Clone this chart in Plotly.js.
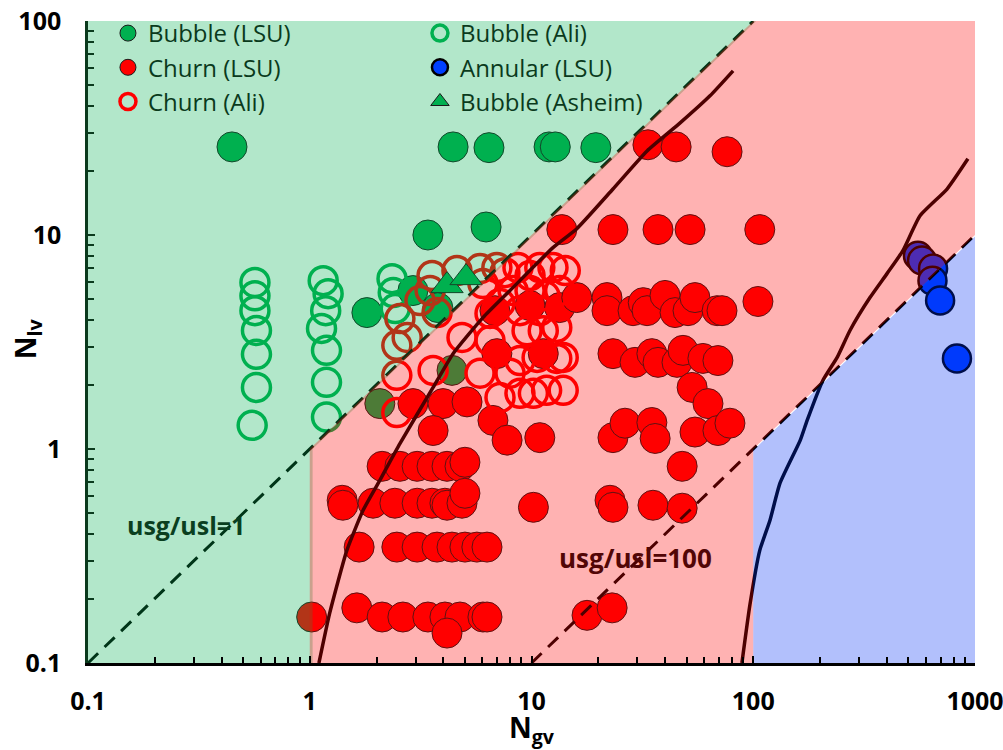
<!DOCTYPE html>
<html><head><meta charset="utf-8">
<script src="https://cdn.plot.ly/plotly-3.0.1.min.js"></script>
<style>html,body{margin:0;padding:0;background:#fff}#chart{width:1003px;height:750px}</style>
</head><body><div id="chart"></div>
<script>
// ---- data (N_gv, N_lv) ----
const bubbleLsuX = [0.446, 4.43, 6.43, 12.0, 12.8, 19.5, 3.41, 6.24, 1.81, 2.92, 3.78, 2.07, 4.38];
const bubbleLsuY = [25.8, 25.8, 25.6, 25.8, 25.8, 25.6, 10.0, 10.9, 4.34, 5.5, 4.58, 1.63, 2.33];

const churnLsuX = [33.5, 44.9, 76.2,
  13.7, 23.3, 37.2, 51.9, 107,
  6.84, 9.85, 13.4, 16.0, 21.9, 21.9, 28.7, 31.9, 33.2, 40.0, 44.4, 50.8, 54.6, 68.7, 72.3, 105,
  6.98, 11.3, 23.3, 29.3, 34.9, 37.2, 45.3, 48.2, 59.3, 69.3,
  53, 62.5,
  2.92, 3.99, 5.12,
  3.60, 6.70, 7.76, 10.9, 23.3, 26.4, 34.9, 36.1, 54.6, 69.3, 78.5,
  2.12, 2.55, 3.05, 3.56, 4.16, 4.76, 5.01, 47.8,
  1.40, 1.41, 1.93, 2.42, 3.05, 3.56, 4.07, 4.16, 4.86, 5.01, 10.2, 22.6, 23.3, 35.3, 47.8,
  1.67, 2.47, 3.05, 3.75, 4.38, 5.01, 5.67, 6.30,
  1.02, 1.63, 2.12, 2.63, 3.41, 4.07, 4.76, 4.16, 6.04, 6.30, 17.8, 23.1];
const churnLsuY = [26.4, 25.8, 24.5,
  10.6, 10.6, 10.6, 10.6, 10.6,
  4.43, 4.68, 4.58, 5.10, 5.10, 4.43, 4.43, 4.83, 4.43, 5.22, 4.34, 4.43, 5.10, 4.43, 4.43, 4.89,
  2.79, 2.79, 2.79, 2.54, 2.79, 2.54, 2.54, 2.89, 2.65, 2.59,
  1.94, 1.63,
  1.63, 1.63, 1.66,
  1.22, 1.36, 1.10, 1.13, 1.13, 1.32, 1.33, 1.12, 1.20, 1.22, 1.32,
  0.83, 0.83, 0.83, 0.83, 0.83, 0.83, 0.867, 0.83,
  0.576, 0.546, 0.558, 0.558, 0.558, 0.558, 0.558, 0.546, 0.558, 0.621, 0.534, 0.576, 0.534, 0.546, 0.529,
  0.348, 0.348, 0.348, 0.348, 0.348, 0.348, 0.348, 0.348,
  0.164, 0.181, 0.164, 0.164, 0.164, 0.164, 0.164, 0.138, 0.164, 0.164, 0.167, 0.181];

const annularLsuX = [553, 577, 647, 643, 696, 829];
const annularLsuY = [8.0, 7.6, 6.97, 6.12, 4.94, 2.65];

const bubbleAliX = [0.566, 0.566, 0.566, 0.575, 0.575, 0.575, 0.55, 1.15, 1.21, 1.18, 1.13, 1.19, 1.19, 1.19, 2.35, 2.38, 2.43];
const bubbleAliY = [6.0, 5.2, 4.43, 3.58, 2.77, 1.94, 1.29, 6.12, 5.32, 4.43, 3.66, 2.89, 2.05, 1.41, 6.25, 5.38, 4.53];

const churnAliX = [3.56, 4.61, 5.86, 6.98, 3.14, 3.75, 2.75, 2.55, 2.47, 3.49,
  2.47, 3.60, 2.47, 4.86, 6.50, 6.50, 8.26, 8.69, 10.9, 12.5, 9.55, 11.3, 13.0,
  8.87, 10.6, 13.0, 13.9, 7.21, 8.87, 10.2, 11.7, 13.9, 5.86, 8.00, 6.04, 7.21,
  9.85, 11.5, 13.4, 9.85, 14.2, 7.59, 10.9, 8.87];
const churnAliY = [6.46, 6.82, 6.97, 7.04, 4.94, 4.34, 3.32, 4.07, 3.05, 5.50,
  2.21, 2.33, 1.48, 3.32, 3.21, 4.30, 5.50, 7.04, 7.04, 7.04, 3.57, 3.57, 3.70,
  2.59, 2.68, 2.65, 2.68, 1.74, 1.82, 1.82, 1.88, 1.88, 2.26, 2.26, 5.93, 4.79,
  5.50, 5.20, 5.50, 6.46, 6.82, 6.67, 4.43, 4.43];

const bubbleAsheimX = [4.16, 5.07];
const bubbleAsheimY = [5.8, 6.32];

// transition curves
const curve1X = [1.10, 1.23, 1.47, 1.74, 2.07, 2.55, 3.60, 4.43, 6.04, 8.00, 12.5, 16.0, 23.3, 33.2, 46.8, 63.8, 81.1];
const curve1Y = [0.1, 0.171, 0.336, 0.517, 0.714, 1.06, 1.94, 2.79, 4.11, 5.50, 8.73, 10.7, 16.4, 24.7, 33.4, 44.7, 58.5];
const curve2X = [88.9, 96.6, 107, 119, 132, 163, 175, 206, 239, 273, 336, 401, 473, 565, 748, 929];
const curve2Y = [0.1, 0.187, 0.336, 0.465, 0.692, 1.10, 1.36, 2.09, 2.68, 3.58, 5.10, 6.60, 8.45, 12.3, 16.4, 22.7];

// usg/usl ratio lines
const ratioLow = 1;
const ratioHigh = 100;

// axes ticks
const xTickVals = [0.1, 1, 10, 100, 1000];
const xTickText = ['0.1', '1', '10', '100', '1000'];
const yTickVals = [0.1, 1, 10, 100];
const yTickText = ['0.1', '1', '10', '100'];

// ---- build ----
function minorTicks(d0, d1) {
  const v = [];
  for (let d = d0; d < d1; d++) for (let k = 2; k <= 9; k++) v.push(k * Math.pow(10, d));
  return v;
}
const FONT = 'Open Sans, Noto Sans, sans-serif';
const edge = '#1a1a1a';

const traces = [];
traces.push({x: bubbleLsuX, y: bubbleLsuY, name: 'Bubble (LSU)', type: 'scatter', mode: 'markers', legendrank: 1,
  marker: {symbol: 'circle', size: 30, color: '#00b050', line: {color: edge, width: 1}}});
traces.push({x: churnLsuX, y: churnLsuY, name: 'Churn (LSU)', type: 'scatter', mode: 'markers', legendrank: 3,
  marker: {symbol: 'circle', size: 30, color: '#ff0000', line: {color: edge, width: 1}}});
traces.push({x: annularLsuX, y: annularLsuY, name: 'Annular (LSU)', type: 'scatter', mode: 'markers', legendrank: 4,
  marker: {symbol: 'circle', size: 28, color: '#0040ff', line: {color: '#000', width: 2.5}}});
traces.push({x: bubbleAliX, y: bubbleAliY, name: 'Bubble (Ali)', type: 'scatter', mode: 'markers', legendrank: 2,
  marker: {symbol: 'circle-open', size: 28, color: '#00b050', line: {color: '#00b050', width: 3.5}}});
traces.push({x: churnAliX, y: churnAliY, name: 'Churn (Ali)', type: 'scatter', mode: 'markers', legendrank: 5,
  marker: {symbol: 'circle-open', size: 28, color: '#ff0000', line: {color: '#ff0000', width: 3.5}}});
traces.push({x: bubbleAsheimX, y: bubbleAsheimY, name: 'Bubble (Asheim)', type: 'scatter', mode: 'markers', legendrank: 6,
  marker: {symbol: 'triangle-up', size: 28, color: '#00b050', line: {color: edge, width: 1}}});

// lines (drawn in black, tinted by the translucent regions above them)
traces.push({x: curve1X, y: curve1Y, type: 'scatter', mode: 'lines', showlegend: false, hoverinfo: 'skip',
  line: {color: '#000', width: 3.5, shape: 'spline', smoothing: 0.5}});
traces.push({x: curve2X, y: curve2Y, type: 'scatter', mode: 'lines', showlegend: false, hoverinfo: 'skip',
  line: {color: '#000', width: 3.5, shape: 'spline', smoothing: 0.5}});
traces.push({x: [0.1, 100], y: [0.1 / ratioLow, 100 / ratioLow], type: 'scatter', mode: 'lines', showlegend: false, hoverinfo: 'skip',
  line: {color: '#000', width: 3, dash: '14px,9px'}});
traces.push({x: [10, 1000], y: [10 / ratioHigh, 1000 / ratioHigh], type: 'scatter', mode: 'lines', showlegend: false, hoverinfo: 'skip',
  line: {color: '#000', width: 3, dash: '14px,9px'}});

// translucent flow-regime regions on top
const xMin = 0.1, xMax = 1000, yMin = 0.1, yMax = 100, eps = 1.03;
traces.push({type: 'scatter', mode: 'none', fill: 'toself', fillcolor: 'rgba(0,176,80,0.3)', showlegend: false, hoverinfo: 'skip',
  x: [xMin, ratioLow * eps, ratioLow * eps, yMax * ratioLow * eps, xMin],
  y: [yMin, yMin, 1, yMax, yMax]});
traces.push({type: 'scatter', mode: 'none', fill: 'toself', fillcolor: 'rgba(255,0,0,0.3)', showlegend: false, hoverinfo: 'skip',
  x: [ratioLow, ratioLow, yMax * ratioLow, xMax, xMax, ratioHigh, ratioHigh],
  y: [yMin, 1, yMax, yMax, xMax / ratioHigh, 1, yMin]});
traces.push({type: 'scatter', mode: 'none', fill: 'toself', fillcolor: 'rgba(0,45,245,0.3)', showlegend: false, hoverinfo: 'skip',
  x: [ratioHigh, ratioHigh, xMax, xMax],
  y: [yMin, 0.985, xMax / ratioHigh * 0.985, yMin]});

const tickFont = {family: FONT, size: 25, color: '#000', weight: 'bold'};
const layout = {
  width: 1003, height: 750,
  margin: {l: 88, r: 28, t: 20, b: 87},
  paper_bgcolor: '#fff', plot_bgcolor: '#fff',
  showlegend: true,
  legend: {orientation: 'h', x: 0.0225, y: 1.014, xanchor: 'left', yanchor: 'top', entrywidth: 267, entrywidthmode: 'pixels',
    bgcolor: 'rgba(0,0,0,0)', font: {family: FONT, size: 24, color: '#0a3a1c'}, traceorder: 'normal'},
  xaxis: {type: 'log', range: [-1, 3], tickmode: 'array', tickvals: xTickVals, ticktext: xTickText,
    ticks: 'inside', ticklen: 7, tickwidth: 2, tickcolor: '#000', showline: true, linewidth: 2.5, linecolor: '#000',
    showgrid: false, zeroline: false, tickfont: tickFont, ticklabelstandoff: 14, ticklabeloverflow: 'allow',
    minor: {tickmode: 'array', tickvals: minorTicks(-1, 3), ticks: 'inside', ticklen: 6, tickwidth: 1.5, tickcolor: '#000', showgrid: false},
    title: {text: 'N<sub>gv</sub>', font: {family: FONT, size: 28, color: '#000', weight: 'bold'}, standoff: 16}},
  yaxis: {type: 'log', range: [-1, 2], tickmode: 'array', tickvals: yTickVals, ticktext: yTickText,
    ticks: 'inside', ticklen: 7, tickwidth: 2, tickcolor: '#0b3a1d', showline: true, linewidth: 2.5, linecolor: '#0b3a1d',
    showgrid: false, zeroline: false, tickfont: tickFont, ticklabelstandoff: 19, ticklabeloverflow: 'allow',
    minor: {tickmode: 'array', tickvals: minorTicks(-1, 2), ticks: 'inside', ticklen: 6, tickwidth: 1.5, tickcolor: '#0b3a1d', showgrid: false}},
  annotations: [
    {text: 'usg/usl=1', x: -0.56, y: -0.356, xref: 'x', yref: 'y', showarrow: false,
      font: {family: FONT, size: 25, color: '#0a3f1f', weight: 'bold'}},
    {text: 'usg/usl=100', x: 1.471, y: -0.51, xref: 'x', yref: 'y', showarrow: false,
      font: {family: FONT, size: 26, color: '#520606', weight: 'bold'}},
    {text: 'N<sub>lv</sub>', x: -0.095, y: 0.5054, xref: 'paper', yref: 'paper', showarrow: false, textangle: -90,
      font: {family: FONT, size: 28, color: '#000', weight: 'bold'}}
  ]
};
Plotly.newPlot('chart', traces, layout, {displayModeBar: false, responsive: false});
</script>
</body></html>
